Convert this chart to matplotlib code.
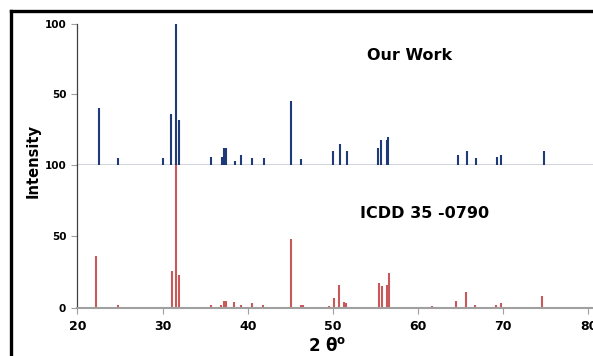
import matplotlib
matplotlib.use("Agg")
import matplotlib.pyplot as plt
from matplotlib.lines import Line2D

# Our Work (blue) peaks
work_2theta = [22.5, 24.8, 30.0, 31.0, 31.55, 31.97, 35.65, 36.95, 37.2, 37.4, 38.5, 39.2,
               40.55, 41.9, 45.1, 46.2, 50.05, 50.85, 51.6, 55.3, 55.6, 56.3, 56.5,
               64.65, 65.7, 66.75, 69.25, 69.75, 74.8]
work_int = [40, 5, 5, 36, 100, 32, 6, 6, 12, 12, 3, 7,
            5, 5, 45, 4, 10, 15, 10, 12, 18, 18, 20,
            7, 10, 5, 6, 7, 10]

# ICDD 35-0790 (red) peaks
icdd_2theta = [22.2, 24.8, 31.1, 31.55, 31.95, 35.65, 36.85, 37.2, 37.4, 38.45, 39.2,
               40.55, 41.8, 45.1, 46.2, 46.5, 49.6, 50.1, 50.75, 51.3, 51.5,
               55.4, 55.75, 56.3, 56.55, 61.6, 64.5, 65.65, 66.7, 69.2, 69.7, 74.6]
icdd_int = [36, 2, 26, 100, 23, 2, 2, 5, 5, 4, 2,
            3, 2, 48, 2, 2, 1, 7, 16, 4, 3,
            17, 15, 16, 24, 1, 5, 11, 2, 2, 3, 8]

x_ticks = [20, 30, 40, 50, 60, 70, 80]
blue = "#1f3a78"
red = "#c9585a"

W, H = 593, 356
fig = plt.figure(figsize=(W / 100, H / 100), dpi=100)
fig.patch.set_facecolor("white")

left = 77.3 / W
right = 1.0
y_top = 1 - 23.6 / H
y_mid = 1 - 165.0 / H
y_bot = 1 - 307.7 / H

ax_top = fig.add_axes([left, y_mid, right - left, y_top - y_mid])
ax_bot = fig.add_axes([left, y_bot, right - left, y_mid - y_bot])

xlim = (20, 20 + (W - 77.3) / 8.52)
for ax in (ax_top, ax_bot):
    ax.set_xlim(*xlim)
    ax.set_ylim(0, 100)
    ax.spines["top"].set_visible(False)
    ax.spines["right"].set_visible(False)
    ax.spines["left"].set_color("#404040")
    ax.spines["left"].set_linewidth(0.9)
    ax.tick_params(axis="y", direction="out", length=4, width=0.8, color="#a0a0a0",
                   labelsize=7.5, pad=4)

ax_top.vlines(work_2theta, 0, work_int, colors=blue, linewidth=1.5)
ax_bot.vlines(icdd_2theta, 0, icdd_int, colors=red, linewidth=1.5)

ax_top.set_yticks([50, 100])
ax_top.set_yticklabels(["50", "100"], fontweight="bold")
ax_top.set_xticks([])
ax_top.spines["bottom"].set_color("#1a2a50")
ax_top.spines["bottom"].set_linewidth(1.0)

ax_bot.set_yticks([0, 50, 100])
ax_bot.set_yticklabels(["0", "50", "100"], fontweight="bold")
ax_bot.set_xticks(x_ticks)
ax_bot.set_xticklabels([str(t) for t in x_ticks], fontweight="bold", fontsize=9)
ax_bot.tick_params(axis="x", direction="out", length=4, width=0.8, color="#a0a0a0", pad=5)
ax_bot.spines["bottom"].set_color("#a0a0a0")
ax_bot.spines["bottom"].set_linewidth(1.5)

ax_top.text(410 / W, 1 - 55 / H, "Our Work", transform=fig.transFigure,
            ha="center", va="center", fontsize=11.5, fontweight="bold")
ax_bot.text(425 / W, 1 - 213 / H, "ICDD 35 -0790", transform=fig.transFigure,
            ha="center", va="center", fontsize=11.5, fontweight="bold")

fig.text(33 / W, 1 - 161 / H, "Intensity", rotation=90, ha="center", va="center",
         fontsize=10.5, fontweight="bold")
fig.text(327 / W, 1 - 346 / H, r"2 $\mathbf{\theta}^{\mathbf{o}}$", ha="center", va="center",
         fontsize=12, fontweight="bold")

# screenshot frame (top and left)
fig.add_artist(Line2D([10.5 / W, 1.0], [1 - 10.5 / H, 1 - 10.5 / H],
                      transform=fig.transFigure, color="black", linewidth=2.4))
fig.add_artist(Line2D([10.5 / W, 10.5 / W], [0, 1 - 10.5 / H],
                      transform=fig.transFigure, color="black", linewidth=2.4))

fig.savefig("out.png", dpi=100)
